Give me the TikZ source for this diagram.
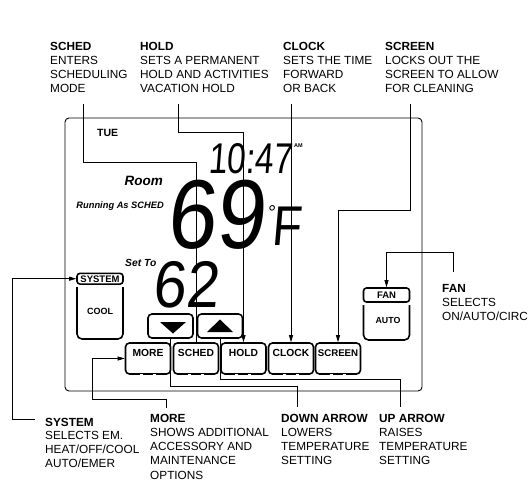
\documentclass[tikz,border=0pt]{standalone}
\usepackage{fontspec}
\setmainfont{Liberation Sans}
\newfontfamily\lcd{Liberation Sans}[FakeSlant=0.1]
\usetikzlibrary{arrows.meta}
\tikzset{
  lbl/.style={anchor=north west, inner sep=0pt, align=left, font=\fontsize{11.8}{14.2}\selectfont},
  conn/.style={line width=0.8pt},
  arr/.style={conn, -{Triangle[length=7pt,width=4pt]}},
  btn/.style={draw, line width=1.6pt, rounded corners=4pt, minimum width=45pt, inner sep=0pt,
    text height=13.7pt, text depth=17.3pt, font=\bfseries\fontsize{10.3}{12}\selectfont},
  arrbtn/.style={draw, line width=1.6pt, rounded corners=4pt, minimum width=45pt, minimum height=24pt, inner sep=0pt},
  head/.style={draw, line width=1.6pt, rounded corners=3pt, minimum width=46pt, inner sep=0pt,
    font=\bfseries\fontsize{9.5}{11}\selectfont},
  lcdtxt/.style={inner sep=0pt, anchor=base west},
  disp/.style={inner sep=0pt, font=\bfseries\itshape},
}
\begin{document}
\begin{tikzpicture}[x=1pt,y=-1pt]
\useasboundingbox (0,0) rectangle (529,481);
\fill[white] (0,0) rectangle (529,481);

% display outline
\draw[line width=0.9pt, rounded corners=4pt] (65,118) rectangle (422,391);

% top labels
\node[lbl] (schedL) at (50,41.8) {\textbf{SCHED}\\ENTERS\\SCHEDULING\\MODE};
\node[lbl] (holdL) at (140,41.8) {\textbf{HOLD}\\SETS A PERMANENT\\HOLD AND ACTIVITIES\\VACATION HOLD};
\node[lbl] (clockL) at (283,41.8) {\textbf{CLOCK}\\SETS THE TIME\\FORWARD\\OR BACK};
\node[lbl] (screenL) at (385,41.8) {\textbf{SCREEN}\\LOCKS OUT THE\\SCREEN TO ALLOW\\FOR CLEANING};

% right label
\node[lbl] (fanL) at (442,283.8) {\textbf{FAN}\\SELECTS\\ON/AUTO/CIRC};

% bottom labels
\node[lbl, font=\fontsize{11.8}{13.7}\selectfont] (systemL) at (45,417.8) {\textbf{SYSTEM}\\SELECTS EM.\\HEAT/OFF/COOL\\AUTO/EMER};
\node[lbl] (moreL) at (150,413.8) {\textbf{MORE}\\SHOWS ADDITIONAL\\ACCESSORY AND\\MAINTENANCE\\OPTIONS};
\node[lbl] (downL) at (281,413.8) {\textbf{DOWN ARROW}\\LOWERS\\TEMPERATURE\\SETTING};
\node[lbl] (upL) at (379,413.8) {\textbf{UP ARROW}\\RAISES\\TEMPERATURE\\SETTING};

% display texts
\node[inner sep=0pt, anchor=base west, font=\bfseries\fontsize{10.5}{12}\selectfont] (tue) at (97,136.8) {TUE};
\node[disp, anchor=base east, font=\bfseries\itshape\fontsize{13.5}{15}\selectfont] (room) at (163,185.8) {Room};
\node[disp, anchor=base east, font=\bfseries\itshape\fontsize{9.3}{11}\selectfont] (running) at (164,208.3) {Running As SCHED};
\node[disp, anchor=base west, font=\bfseries\itshape\fontsize{10.3}{12}\selectfont] (setto) at (125,266.7) {Set To};

% LCD digits
\node[lcdtxt, font=\lcd\fontsize{43}{43}\selectfont] (clock) at (208,173) {\scalebox{0.78}[1]{10:47\kern-4pt}};
\node[inner sep=0pt, anchor=base west, font=\bfseries\fontsize{5.5}{6}\selectfont] (am) at (294,148) {AM};
\node[lcdtxt, font=\lcd\fontsize{98}{98}\selectfont] (temp) at (166,248) {\scalebox{0.9}[1]{69\kern-6pt}};
\node[lcdtxt, font=\lcd\fontsize{56}{56}\selectfont] (unitF) at (267,245) {\raisebox{26pt}{\fontsize{20}{20}\selectfont °}\kern-4pt\scalebox{0.86}[1]{F}};
\node[lcdtxt, font=\lcd\fontsize{66}{66}\selectfont] (setp) at (152,307) {\scalebox{0.9}[1]{62}};

% SYSTEM and FAN boxes
\node[head, text height=8.8pt, text depth=1.9pt] (sysH) at (100,278.7) {SYSTEM};
\draw[line width=1.6pt, rounded corners=5pt] (77,287) -- (77,339) -- (123,339) -- (123,287);
\node[inner sep=0pt, anchor=base, font=\bfseries\fontsize{9}{10}\selectfont] (cool) at (100,314.2) {COOL};

\node[head, text height=10.4pt, text depth=3.6pt] (fanH) at (386.5,295) {FAN};
\draw[line width=1.6pt, rounded corners=5pt] (363.5,305) -- (363.5,340) -- (409.5,340) -- (409.5,305);
\node[inner sep=0pt, anchor=base, font=\bfseries\fontsize{8.8}{10}\selectfont] (auto) at (388,323.5) {AUTO};

% arrow buttons
\node[arrbtn] (downB) at (170.5,326) {};
\node[arrbtn] (upB) at (220,326) {};
\fill (160,322) -- (186,322) -- (173,333.5) -- cycle;
\fill (207,332) -- (233,332) -- (220,319.5) -- cycle;

% buttons
\node[btn] (moreB) at (148,358.5) {MORE};
\node[btn] (schedB) at (196,358.5) {SCHED};
\node[btn] (holdB) at (243.5,358.5) {HOLD};
\node[btn] (clockB) at (291,358.5) {CLOCK};
\node[btn, font=\bfseries\fontsize{9.7}{12}\selectfont] (screenB) at (338,358.5) {SCREEN};
\foreach \b in {moreB,schedB,holdB,clockB,screenB}{
  \draw[white, line width=2.6pt] ([xshift=15pt]\b.south west) -- ++(3,0);
  \draw[white, line width=2.6pt] ([xshift=28pt]\b.south west) -- ++(3,0);
}

% connector end points
\coordinate (schedT) at (83,104);
\coordinate (holdT) at (178,104);
\coordinate (clockT) at (291,104);
\coordinate (screenT) at (410,104);
\coordinate (fanT) at (453,272);
\coordinate (sysE) at (35,419);
\coordinate (sysC) at (12,419);
\coordinate (moreE) at (166,408);
\coordinate (moreC) at (92,399);
\coordinate (downE) at (297,407);
\coordinate (upE) at (400,407);

% connectors
\draw[conn] (schedT) |- (schedB.north |- 0,162) -- (schedB.north);
\draw[arr] (holdT) |- (holdB.north |- 0,132) -- (holdB.north);
\draw[arr] (clockT) -- (clockB.north);
\draw[arr] (screenT) |- (screenB.north |- 0,210) -- (screenB.north);
\draw[arr] (fanT) |- (fanH.north |- 0,252) -- (fanH.north);
\draw[arr] (sysE) -- (sysC) |- (sysH.west);
\draw[arr] (moreE) |- (moreC) |- (moreB.west);
\draw[conn] (downB.south) -- ++(0,48) -| (downE);
\draw[conn] (upB.south) -- ++(0,41) -| (upE);
\end{tikzpicture}
\end{document}
